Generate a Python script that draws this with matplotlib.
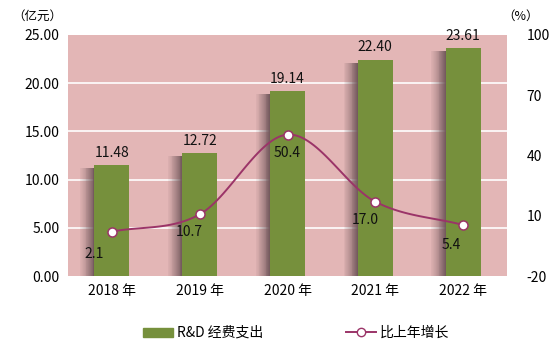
import numpy as np
import matplotlib
matplotlib.use("Agg")
import matplotlib.pyplot as plt
from matplotlib.lines import Line2D
from matplotlib.patches import Patch

plt.rcParams['font.family'] = ['Noto Sans CJK SC', 'DejaVu Sans']

years = ["2018 年", "2019 年", "2020 年", "2021 年", "2022 年"]
rd_spend = [11.48, 12.72, 19.14, 22.40, 23.61]
growth = [2.1, 10.7, 50.4, 17.0, 5.4]
left_ticks = [0, 5, 10, 15, 20, 25]
right_ticks = [-20, 10, 40, 70, 100]

bg = "#E3B6B6"
green = "#76903C"
line_c = "#9B3468"

W, H = 556, 362
fig = plt.figure(figsize=(W / 100, H / 100), dpi=100)
ax = fig.add_axes([68 / W, 1 - 276 / H, (507 - 68) / W, (276 - 35) / H])
ax.set_facecolor(bg)
x = np.arange(len(years))
ax.set_xlim(-0.5, len(years) - 0.5)
ax.set_ylim(0, 25)
for t in [5, 10, 15, 20]:
    ax.axhline(t, color="white", lw=1.2, zorder=1)

bw = 0.40
# shadow gradient to the left of each bar
ns = 16
sw = 0.16
for i, v in enumerate(rd_spend):
    for k in range(ns):
        frac = (k + 1) / ns
        ax.bar(x[i] - bw / 2 - sw + sw * k / ns, v - 0.3, width=sw / ns, align="edge",
               color="#6F5559", alpha=min(1.0, 0.05 + 0.9 * frac ** 1.3), zorder=2, lw=0)
ax.bar(x, rd_spend, width=bw, color=green, zorder=3, lw=0)
for i, v in enumerate(rd_spend):
    ax.text(x[i], v + 0.6, f"{v:.2f}", ha="center", va="bottom", fontsize=10, color="#111")

ax.set_yticks(left_ticks)
ax.set_yticklabels([f"{t:.2f}" for t in left_ticks], fontsize=10)
ax.set_xticks(x)
ax.set_xticklabels(years, fontsize=10)
ax.tick_params(axis="both", length=0, pad=6)
for s in ax.spines.values():
    s.set_visible(False)

ax2 = ax.twinx()
ax2.set_ylim(-20, 100)
ax2.set_yticks(right_ticks)
ax2.set_yticklabels([str(t) for t in right_ticks], fontsize=10)
ax2.tick_params(axis="y", length=0, pad=14)
for s in ax2.spines.values():
    s.set_visible(False)

# Catmull-Rom smooth curve through the data points
def catmull(xs, ys, n=30):
    P = np.column_stack([xs, ys]).astype(float)
    P = np.vstack([2 * P[0] - P[1], P, 2 * P[-1] - P[-2]])
    out = []
    for i in range(1, len(P) - 2):
        p0, p1, p2, p3 = P[i - 1], P[i], P[i + 1], P[i + 2]
        for t in np.linspace(0, 1, n, endpoint=False):
            t2, t3 = t * t, t * t * t
            pt = 0.5 * ((2 * p1) + (-p0 + p2) * t + (2 * p0 - 5 * p1 + 4 * p2 - p3) * t2
                        + (-p0 + 3 * p1 - 3 * p2 + p3) * t3)
            out.append(pt)
    out.append(P[-2])
    out = np.array(out)
    return out[:, 0], out[:, 1]

cx, cy = catmull(x, growth)
ax2.plot(cx, cy, color=line_c, lw=1.4, zorder=4)
ax2.plot(x, growth, ls="none", marker="o", ms=6.5, mfc="white", mec=line_c, mew=1.1, zorder=5)
offs = [(-0.2, -11), (-0.12, -9), (0.0, -9), (-0.12, -9), (-0.14, -10)]
for i, g in enumerate(growth):
    dx, dy = offs[i]
    ax2.text(x[i] + dx, g + dy, f"{g:.1f}", ha="center", va="center", fontsize=10, color="#111")

fig.text(12 / W, 1 - 16 / H, "（亿元）", fontsize=9, ha="left", va="center")
fig.text(521 / W, 1 - 16 / H, "（%）", fontsize=9, ha="center", va="center")

fig.legend([Patch(color=green)], ["R&D 经费支出"], loc="center left",
           bbox_to_anchor=(130 / W, 1 - 333 / H), frameon=False, fontsize=10,
           handlelength=2.2, handleheight=0.6, handletextpad=0.3)
fig.legend([Line2D([], [], color=line_c, lw=1.4, marker="o", ms=6, mfc="white", mec=line_c)],
           ["比上年增长"], loc="center left", bbox_to_anchor=(333 / W, 1 - 333 / H),
           frameon=False, fontsize=10, handlelength=2.2, handletextpad=0.3)

fig.savefig("out.png", dpi=100)
